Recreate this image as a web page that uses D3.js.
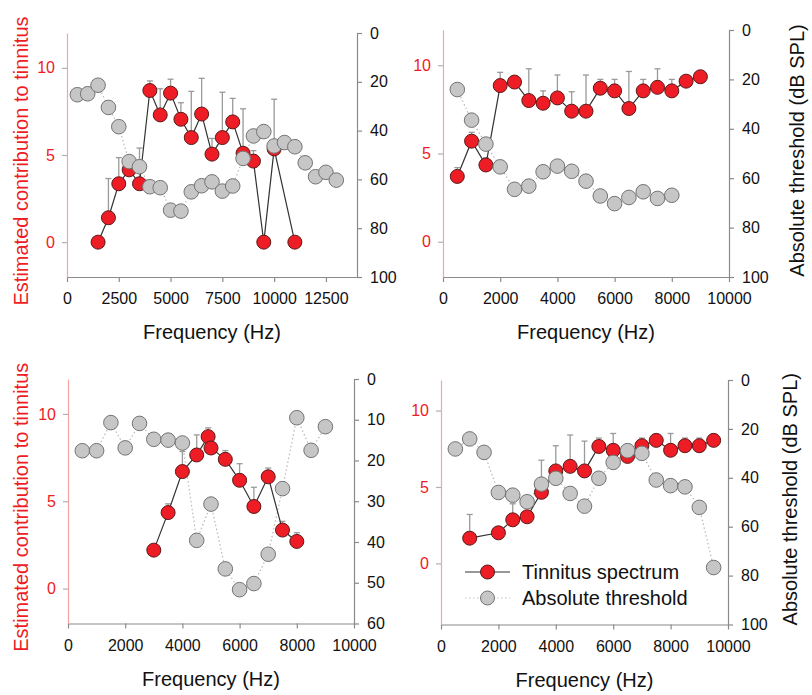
<!DOCTYPE html>
<html>
<head>
<meta charset="utf-8">
<script src="https://cdn.jsdelivr.net/npm/d3@7"></script>
<style>
  body { margin: 0; background: #fff; }
  svg { font-family: "Liberation Sans", Arial, sans-serif; }
</style>
</head>
<body>
<svg id="chart" width="812" height="695"></svg>
<script>
// Tinnitus spectrum vs absolute threshold, four listeners

// Panel A (top left)
const specFreqA = [1500, 2000, 2500, 3000, 3500, 4000, 4500, 5000, 5500, 6000, 6500, 7000, 7500, 8000, 8500, 9000, 9500, 10000, 11000];
const specA     = [0, 1.4, 3.35, 4.15, 3.35, 8.7, 7.3, 8.55, 7.05, 6.0, 7.35, 5.05, 6.0, 6.9, 5.1, 4.65, 0, 5.35, 0];
const specErrA  = [0, 2.25, 1.5, 0.5, 2.05, 0.55, 1.5, 0.8, 0.95, 2.65, 2.05, 0.9, 2.6, 1.35, 2.55, 0.6, 0, 2.85, 0];
const thrFreqA  = [500, 1000, 1500, 2000, 2500, 3000, 3500, 4000, 4500, 5000, 5500, 6000, 6500, 7000, 7500, 8000, 8500, 9000, 9500, 10000, 10500, 11000, 11500, 12000, 12500, 13000];
const thrA      = [25.3, 24.9, 21.4, 30.5, 38.4, 52.7, 54.8, 63.0, 63.4, 72.6, 73.0, 65.1, 62.6, 61.0, 64.8, 62.7, 51.4, 42.2, 40.4, 46.3, 44.9, 46.6, 53.2, 58.9, 57.1, 60.3];

// Panel B (top right)
const specFreqB = [500, 1000, 1500, 2000, 2500, 3000, 3500, 4000, 4500, 5000, 5500, 6000, 6500, 7000, 7500, 8000, 8500, 9000];
const specB     = [3.7, 5.7, 4.35, 8.85, 9.05, 8.0, 7.85, 8.15, 7.4, 7.4, 8.7, 8.55, 7.55, 8.55, 8.75, 8.55, 9.1, 9.35];
const specErrB  = [0.5, 0.5, 0.4, 0.75, 0, 1.8, 0.7, 1.3, 1.1, 2.05, 0.5, 0.65, 2.1, 0.65, 1.05, 0.65, 0, 0];
const thrFreqB  = [500, 1000, 1500, 2000, 2500, 3000, 3500, 4000, 4500, 5000, 5500, 6000, 6500, 7000, 7500, 8000];
const thrB      = [24.1, 36.5, 46.2, 55.4, 64.5, 63.2, 57.4, 55.1, 57.2, 61.2, 67.2, 70.3, 67.8, 65.5, 68.2, 66.9];

// Panel C (bottom left)
const specFreqC = [3000, 3500, 4000, 4500, 4900, 5000, 5500, 6000, 6500, 7000, 7500, 8000];
const specC     = [2.2, 4.35, 6.7, 7.65, 8.7, 8.05, 7.4, 6.2, 4.7, 6.4, 3.35, 2.7];
const specErrC  = [0, 0.5, 1.15, 1.15, 0.5, 0, 0.5, 0.95, 1.1, 0.5, 0.5, 0.5];
const thrFreqC  = [500, 1000, 1500, 2000, 2500, 3000, 3500, 4000, 4500, 5000, 5500, 6000, 6500, 7000, 7500, 8000, 8500, 9000];
const thrC      = [17.6, 17.6, 10.7, 16.9, 10.9, 14.8, 15.0, 15.7, 39.6, 30.7, 46.6, 51.7, 50.2, 43.0, 26.9, 9.5, 17.5, 11.7];

// Panel D (bottom right)
const specFreqD = [1000, 2000, 2500, 3000, 3500, 4000, 4500, 5000, 5500, 6000, 6500, 7000, 7500, 8000, 8500, 9000, 9500];
const specD     = [1.65, 2.0, 2.85, 3.05, 4.65, 6.05, 6.35, 6.05, 7.65, 7.4, 7.0, 7.7, 8.05, 7.4, 7.7, 7.7, 8.05];
const specErrD  = [1.55, 0, 1.05, 0, 2.1, 1.65, 2.05, 1.95, 0.55, 1.1, 0.5, 0.5, 0, 1.1, 0.5, 0.5, 0];
const thrFreqD  = [500, 1000, 1500, 2000, 2500, 3000, 3500, 4000, 4500, 5000, 5500, 6000, 6500, 7000, 7500, 8000, 8500, 9000, 9500];
const thrD      = [28.2, 24.1, 29.6, 46.0, 47.1, 49.8, 42.6, 40.2, 46.4, 51.6, 40.2, 33.7, 28.9, 30.0, 40.9, 43.2, 43.7, 52.1, 76.7];

// Tick labels
const xTicksWide = [0, 2500, 5000, 7500, 10000, 12500];
const xTicks     = [0, 2000, 4000, 6000, 8000, 10000];
const leftTicks  = [0, 5, 10];
const rightTicks100 = [0, 20, 40, 60, 80, 100];
const rightTicks60  = [0, 10, 20, 30, 40, 50, 60];

const legendLabels = ['Tinnitus spectrum', 'Absolute threshold'];

const RED = '#ee1c24';
const RED_AXIS = '#f5a3a3';
const GREY_AXIS = '#8a8a8a';

const panels = [
  { x0: 67, x1: 357, y0: 33, y1: 277, xMax: 14000, xTicks: xTicksWide, yMin: -2, thrMax: 100, rTicks: rightTicks100,
    sf: specFreqA, s: specA, se: specErrA, tf: thrFreqA, t: thrA, leftTitle: true },
  { x0: 443, x1: 729, y0: 30, y1: 277, xMax: 10000, xTicks: xTicks, yMin: -2, thrMax: 100, rTicks: rightTicks100,
    sf: specFreqB, s: specB, se: specErrB, tf: thrFreqB, t: thrB, rightTitle: 804 },
  { x0: 68, x1: 354, y0: 379, y1: 623.5, xMax: 10000, xTicks: xTicks, yMin: -2, thrMax: 60, rTicks: rightTicks60,
    sf: specFreqC, s: specC, se: specErrC, tf: thrFreqC, t: thrC, leftTitle: true },
  { x0: 441, x1: 728, y0: 380, y1: 624.5, xMax: 10000, xTicks: xTicks, yMin: -4, thrMax: 100, rTicks: rightTicks100,
    sf: specFreqD, s: specD, se: specErrD, tf: thrFreqD, t: thrD, rightTitle: 797, legend: true }
];

const svg = d3.select('#chart');

function styleAxis(sel, lineColor, tickColor, textColor) {
  sel.select('.domain').attr('stroke', lineColor).attr('stroke-width', 1.2);
  sel.selectAll('.tick line').attr('stroke', tickColor).attr('stroke-width', 1.2);
  sel.selectAll('.tick text').attr('fill', textColor).attr('font-size', 16)
    .attr('font-family', '"Liberation Sans", Arial, sans-serif');
}

function drawPanel(p) {
  const x = d3.scaleLinear().domain([0, p.xMax]).range([p.x0, p.x1]);
  const yL = d3.scaleLinear().domain([p.yMin, 12]).range([p.y1, p.y0]);
  const yR = d3.scaleLinear().domain([0, p.thrMax]).range([p.y0, p.y1]);
  const g = svg.append('g');

  // Axes
  g.append('g')
    .attr('transform', `translate(0,${p.y1})`)
    .call(d3.axisBottom(x).tickValues(p.xTicks).tickFormat(d3.format('d')).tickSize(5).tickPadding(11).tickSizeOuter(0))
    .call(s => styleAxis(s, GREY_AXIS, GREY_AXIS, '#111'));

  g.append('g')
    .attr('transform', `translate(${p.x0},0)`)
    .call(d3.axisLeft(yL).tickValues(leftTicks).tickSize(5).tickPadding(7).tickSizeOuter(0))
    .call(s => styleAxis(s, RED_AXIS, '#b0b0b0', RED));

  g.append('g')
    .attr('transform', `translate(${p.x1},0)`)
    .call(d3.axisRight(yR).tickValues(p.rTicks).tickSize(5).tickPadding(8).tickSizeOuter(0))
    .call(s => styleAxis(s, GREY_AXIS, GREY_AXIS, '#111'));

  // Titles
  g.append('text')
    .attr('x', (p.x0 + p.x1) / 2)
    .attr('y', p.y1 + 62)
    .attr('text-anchor', 'middle')
    .attr('font-size', 20)
    .attr('fill', '#111')
    .text('Frequency (Hz)');

  if (p.leftTitle) {
    g.append('text')
      .attr('transform', `translate(28,${(p.y0 + p.y1) / 2 + 6}) rotate(-90)`)
      .attr('text-anchor', 'middle')
      .attr('font-size', 20)
      .attr('fill', RED)
      .text('Estimated contribution to tinnitus');
  }
  if (p.rightTitle) {
    g.append('text')
      .attr('transform', `translate(${p.rightTitle},${(p.y0 + p.y1) / 2 - 3}) rotate(-90)`)
      .attr('text-anchor', 'middle')
      .attr('font-size', 20)
      .attr('fill', '#111')
      .text('Absolute threshold (dB SPL)');
  }

  const spec = p.sf.map((f, i) => ({ f: f, v: p.s[i], e: p.se[i] }));
  const thr = p.tf.map((f, i) => ({ f: f, v: p.t[i] }));

  // Threshold dotted line
  g.append('path')
    .datum(thr)
    .attr('fill', 'none')
    .attr('stroke', '#b8b8b8')
    .attr('stroke-width', 1.2)
    .attr('stroke-dasharray', '1.5,2.5')
    .attr('d', d3.line().x(d => x(d.f)).y(d => yR(d.v)));

  // Error bars (upper only)
  const eb = g.append('g').attr('stroke', '#9a9a9a').attr('stroke-width', 1.3);
  spec.filter(d => d.e > 0).forEach(d => {
    eb.append('line').attr('x1', x(d.f)).attr('x2', x(d.f)).attr('y1', yL(d.v)).attr('y2', yL(d.v + d.e));
    eb.append('line').attr('x1', x(d.f) - 3).attr('x2', x(d.f) + 3).attr('y1', yL(d.v + d.e)).attr('y2', yL(d.v + d.e));
  });

  // Spectrum line + points
  g.append('path')
    .datum(spec)
    .attr('fill', 'none')
    .attr('stroke', '#333')
    .attr('stroke-width', 1.2)
    .attr('d', d3.line().x(d => x(d.f)).y(d => yL(d.v)));

  g.append('g').selectAll('circle')
    .data(spec)
    .enter().append('circle')
    .attr('cx', d => x(d.f))
    .attr('cy', d => yL(d.v))
    .attr('r', 7)
    .attr('fill', RED)
    .attr('stroke', '#5a1a1a')
    .attr('stroke-width', 1);

  g.append('g').selectAll('circle')
    .data(thr)
    .enter().append('circle')
    .attr('cx', d => x(d.f))
    .attr('cy', d => yR(d.v))
    .attr('r', 7.3)
    .attr('fill', '#c6c6c6')
    .attr('stroke', '#737373')
    .attr('stroke-width', 1);

  if (p.legend) drawLegend(g, p);
}

function drawLegend(g, p) {
  const lx = p.x0 + 24, ly = 572, gap = 26;
  const rows = g.append('g');
  legendLabels.forEach((lab, i) => {
    const y = ly + i * gap;
    rows.append('line')
      .attr('x1', lx).attr('x2', lx + 45).attr('y1', y).attr('y2', y)
      .attr('stroke', i === 0 ? '#333' : '#c0c0c0')
      .attr('stroke-width', 1.2)
      .attr('stroke-dasharray', i === 0 ? null : '1.5,2.5');
    rows.append('circle')
      .attr('cx', lx + 22.5).attr('cy', y).attr('r', 7)
      .attr('fill', i === 0 ? RED : '#c6c6c6')
      .attr('stroke', i === 0 ? '#5a1a1a' : '#737373');
    rows.append('text')
      .attr('x', lx + 57).attr('y', y)
      .attr('dy', '0.35em')
      .attr('font-size', 20)
      .attr('fill', '#111')
      .text(lab);
  });
}

panels.forEach(drawPanel);
</script>
</body>
</html>
